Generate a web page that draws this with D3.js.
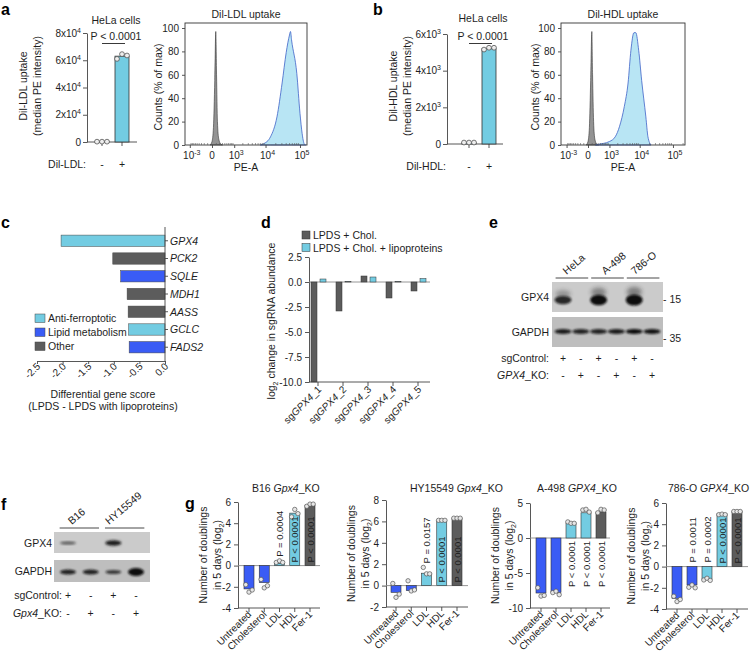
<!DOCTYPE html>
<html><head><meta charset="utf-8">
<script src="https://cdn.jsdelivr.net/npm/d3@7"></script>
<style>
body{margin:0;background:#fff}
text{font-family:"Liberation Sans",Arial,Helvetica,sans-serif;fill:#1e1e1e}
</style>
</head><body>
<svg id="fig" width="750" height="661"></svg>
<script>
// ================= DATA =================
// panel a / b bar charts
const abGroups = ["-", "+"];
const aMeans = [250, 63000];
const aReps = [[250, 250, 250], [61000, 64500, 63500]];
const aTicks = [0, 20000, 40000, 60000, 80000];
const bMeans = [80, 5200];
const bReps = [[80, 80, 80], [5150, 5250, 5250]];
const bTicks = [0, 2000, 4000, 6000];
// flow histograms: [PE-A value, % of max]
const aHistCtrl = [[-40,0],[0,3],[30,15],[60,55],[85,97],[105,60],[130,20],[170,5],[230,1],[300,0]];
const aHistLDL = [[7000,0],[8700,1],[14000,7],[21600,24],[30500,53],[40000,79],[49800,94],[53300,97],[57000,90],[81000,61],[100000,27],[115000,10],[132000,1],[145000,0]];
const bHistCtrl = [[-40,0],[0,3],[30,15],[60,55],[90,97],[110,60],[140,20],[180,5],[240,1],[320,0]];
const bHistHDL = [[200,0],[295,0.5],[1000,3],[1630,7],[2300,16],[3300,33],[4350,53],[5350,81],[6640,96],[7600,96],[9300,81],[11500,55],[15400,24],[17800,7],[22000,0]];
const histYTicks = [0, 20, 40, 60, 80, 100];
const histXTicks = [-1000, 0, 1000, 10000, 100000];
const histXLabels = [["10","-3"], ["0",""], ["10","3"], ["10","4"], ["10","5"]];
const histMinor = [-900,-800,-700,-600,-500,-400,-300,-200,-100,100,200,300,400,500,600,700,800,900,2000,3000,4000,5000,6000,7000,8000,9000,20000,30000,40000,50000,60000,70000,80000,90000,200000];
// panel c
const cGenes = ["GPX4","PCK2","SQLE","MDH1","AASS","GCLC","FADS2"];
const cScores = [-2.03,-1.02,-0.865,-0.74,-0.72,-0.71,-0.70];
const cClass = ["Anti-ferroptotic","Other","Lipid metabolism","Other","Other","Anti-ferroptotic","Lipid metabolism"];
const cLegend = ["Anti-ferroptotic","Lipid metabolism","Other"];
const cTicks = [-2.5,-2.0,-1.5,-1.0,-0.5,0.0];
// panel d
const dGuides = ["1","2","3","4","5"];
const dChol = [-10, -2.9, 0.6, -1.6, -0.9];
const dLipo = [0.3, 0.03, 0.5, 0.03, 0.35];
const dTicks = [2.5, 0, -2.5, -5, -7.5, -10];
const dSeries = ["LPDS + Chol.", "LPDS + Chol. + lipoproteins"];
// panel e (western blot, relative band intensity per lane)
const eCells = ["HeLa","A-498","786-O"];
const eSgControl = ["+","-","+","-","+","-"];
const eKO = ["-","+","-","+","-","+"];
const eGPX4 = [0.75, 0, 0.95, 0, 1.0, 0];
const eGAPDH = [0.85, 0.8, 0.8, 0.85, 0.95, 0.9];
// panel f
const fCells = ["B16","HY15549"];
const fSgControl = ["+","-","+","-"];
const fKO = ["-","+","-","+"];
const fGPX4 = [0.45, 0, 0.8, 0];
const fGAPDH = [0.8, 0.8, 0.65, 1.0];
// panel g
const gCats = ["Untreated","Cholesterol","LDL","HDL","Fer-1"];
const g1Means = [-2.2,-1.6,0.2,4.95,5.7];
const g1Reps = [[-1.8,-2.5,-2.3],[-1.3,-2.1,-1.9],[0.3,0.45,0.3],[4.6,5.3,4.9],[5.6,5.8,5.8]];
const g1P = ["","","P = 0.0004","P < 0.0001","P < 0.0001"];
const g2Means = [-0.63,-0.47,1.16,6.1,6.3];
const g2Reps = [[0.2,-1.1,-0.8],[0.45,-0.5,-0.4],[1.7,1.1,1.1],[6.1,6.1,6.1],[6.3,6.3,6.3]];
const g2P = ["","","P = 0.0157","P < 0.0001","P < 0.0001"];
const g3Means = [-7.86,-7.8,2.14,3.6,3.7];
const g3Reps = [[-7.1,-8.3,-8.2],[-7.8,-7.6,-8.1],[2.3,2.1,2.1],[4.0,4.1,3.7],[3.6,4.1,4.0]];
const g3P = ["","","P < 0.0001","P < 0.0001","P < 0.0001"];
const g4Means = [-2.99,-1.73,-1.2,4.97,5.2];
const g4Reps = [[-2.8,-3.3,-3.1],[-1.95,-1.73,-2.0],[-1.26,-1.1,-1.3],[4.9,4.95,4.9],[5.2,5.2,5.2]];
const g4P = ["","P = 0.0011","P = 0.0002","P < 0.0001","P < 0.0001"];

// ================= STYLE =================
const LB = "#73cce2", BL = "#3a5cf5", DG = "#5c5c5c", AXC = "#444";
const FF = '"Liberation Sans",Arial,Helvetica,sans-serif';
const svg = d3.select("#fig");
const defs = svg.append("defs");
defs.append("filter").attr("id","blur").attr("x","-50%").attr("y","-50%").attr("width","200%").attr("height","200%")
  .append("feGaussianBlur").attr("stdDeviation",1.3);
defs.append("filter").attr("id","blur2").attr("x","-50%").attr("y","-50%").attr("width","200%").attr("height","200%")
  .append("feGaussianBlur").attr("stdDeviation",2.2);

function styleAxis(g){
  g.attr("font-family", FF).attr("font-size", 10).style("color", AXC);
  g.selectAll("path.domain").attr("stroke-width", 0.9);
  g.selectAll(".tick line").attr("stroke-width", 0.9);
  g.selectAll(".tick text").style("fill", "#1e1e1e");
}
function letter(t, x, y){ svg.append("text").attr("x",x).attr("y",y).attr("font-size",16).attr("font-weight","bold").style("fill","#000").text(t); }
function line(x1,y1,x2,y2,stroke,w){ return svg.append("line").attr("x1",x1).attr("y1",y1).attr("x2",x2).attr("y2",y2).attr("stroke",stroke||AXC).attr("stroke-width",w||0.9); }

// ================= a / b : bar charts =================
function uptakeBar(cfg){
  const y = d3.scaleLinear().domain([0, cfg.max]).range([cfg.y0, cfg.y1]);
  const x = d3.scalePoint().domain(abGroups).range(cfg.xr);
  const ax = svg.append("g").attr("transform",`translate(${cfg.axisX},0)`)
    .call(d3.axisLeft(y).tickValues(cfg.ticks).tickSize(4).tickSizeOuter(0).tickFormat(""));
  styleAxis(ax);
  cfg.ticks.forEach(t => {
    const tx = svg.append("text").attr("x", cfg.axisX-6).attr("y", y(t)+3.5).attr("text-anchor","end").attr("font-size",10);
    if (t === 0) tx.text("0");
    else { const e = Math.floor(Math.log10(t)); tx.append("tspan").text((t/Math.pow(10,e)) + "x10"); tx.append("tspan").attr("dy",-4).attr("font-size",7).text(e); }
  });
  line(cfg.axisX, cfg.y0, cfg.xEnd, cfg.y0);
  abGroups.forEach((gname,i) => {
    line(x(gname), cfg.y0, x(gname), cfg.y0+4);
    svg.append("rect").attr("x", x(gname)-7).attr("width",14).attr("y", y(cfg.means[i])).attr("height", cfg.y0 - y(cfg.means[i]))
      .attr("fill", LB).attr("stroke","#333").attr("stroke-width",0.8);
    cfg.reps[i].forEach((v,k) => svg.append("circle").attr("cx", x(gname)+(k-1)*5).attr("cy", y(v)).attr("r",2.4)
      .attr("fill","#eee").attr("stroke","#555").attr("stroke-width",0.8));
    svg.append("text").attr("x", x(gname)).attr("y", cfg.y0+26).attr("text-anchor","middle").attr("font-size",10.5).text(gname);
  });
  svg.append("text").attr("x", cfg.axisX-1).attr("y", cfg.y0+26).attr("text-anchor","end").attr("font-size",10.5).text(cfg.xName);
  const mid = (x("-")+x("+"))/2 + 4;
  svg.append("text").attr("x", mid).attr("y", cfg.titleY).attr("text-anchor","middle").attr("font-size",10.5).text("HeLa cells");
  svg.append("text").attr("x", mid).attr("y", 40).attr("text-anchor","middle").attr("font-size",10.5).text("P < 0.0001");
  line(x("-"), 43.5, x("+")+3, 43.5, "#222", 0.9);
  svg.append("text").attr("transform",`translate(${cfg.labX},86) rotate(-90)`).attr("text-anchor","middle").attr("font-size",10.5).text(cfg.yName);
  svg.append("text").attr("transform",`translate(${cfg.labX+14},86) rotate(-90)`).attr("text-anchor","middle").attr("font-size",10.5).text("(median PE intensity)");
}
uptakeBar({max:80000, y0:142, y1:33, axisX:87, xEnd:137, xr:[102,122], means:aMeans, reps:aReps, ticks:aTicks, xName:"Dil-LDL:", yName:"Dil-LDL uptake", labX:27, titleY:24});
uptakeBar({max:6000, y0:144, y1:34, axisX:447, xEnd:503, xr:[469,489], means:bMeans, reps:bReps, ticks:bTicks, xName:"Dil-HDL:", yName:"Dil-HDL uptake", labX:397, titleY:22});

// ================= a / b : histograms =================
function histo(cfg){
  const x = d3.scaleSymlog().constant(300).domain(cfg.dom).range([cfg.xl, cfg.xr]);
  const y = d3.scaleLinear().domain([0,100]).range([145, 28]);
  const area = d3.area().x(d => x(d[0])).y0(y(0)).y1(d => y(d[1])).curve(d3.curveMonotoneX);
  svg.append("path").datum(cfg.ctrl).attr("d", area).attr("fill","#939393").attr("stroke","#333").attr("stroke-width",0.6);
  svg.append("path").datum(cfg.treated).attr("d", area).attr("fill","#b8e5f4").attr("stroke","#3d62c8").attr("stroke-width",0.8);
  svg.append("rect").attr("x", cfg.xl).attr("y", 23).attr("width", cfg.xr-cfg.xl).attr("height", 145-23)
    .attr("fill","none").attr("stroke","#333").attr("stroke-width",0.9);
  const ay = svg.append("g").attr("transform",`translate(${cfg.xl},0)`)
    .call(d3.axisLeft(y).tickValues(histYTicks).tickSize(3).tickSizeOuter(0).tickFormat(d=>d));
  styleAxis(ay); ay.select("path.domain").remove();
  const axx = svg.append("g").attr("transform",`translate(0,145)`)
    .call(d3.axisBottom(x).tickValues(histXTicks).tickSize(3).tickSizeOuter(0).tickFormat(""));
  styleAxis(axx); axx.select("path.domain").remove();
  histMinor.forEach(v => { if (x(v) > cfg.xl && x(v) < cfg.xr) line(x(v), 145, x(v), 143, "#555", 0.6); });
  histXTicks.forEach((v,i) => {
    const t = svg.append("text").attr("x", x(v) + (histXLabels[i][1] ? 2 : 0)).attr("y", 159).attr("text-anchor","middle").attr("font-size",10);
    t.append("tspan").text(histXLabels[i][0]);
    if (histXLabels[i][1]) t.append("tspan").attr("dy",-4).attr("font-size",7).text(histXLabels[i][1]);
  });
  const mid = (cfg.xl + cfg.xr)/2;
  svg.append("text").attr("x", mid).attr("y", 171).attr("text-anchor","middle").attr("font-size",10.5).text("PE-A");
  svg.append("text").attr("x", mid).attr("y", 18).attr("text-anchor","middle").attr("font-size",10.5).text(cfg.title);
  svg.append("text").attr("transform",`translate(${cfg.labX},87) rotate(-90)`).attr("text-anchor","middle").attr("font-size",10.5).text("Counts (% of max)");
}
histo({dom:[-1485,159000], xl:185, xr:307, ctrl:aHistCtrl, treated:aHistLDL, title:"Dil-LDL uptake", labX:162});
histo({dom:[-1602,228000], xl:561, xr:685, ctrl:bHistCtrl, treated:bHistHDL, title:"Dil-HDL uptake", labX:539});

// ================= c =================
(function(){
  const x = d3.scaleLinear().domain([-2.5, 0]).range([37, 165]);
  const y = d3.scaleBand().domain(cGenes).range([228.7, 359.3]).padding(0.36);
  const col = d3.scaleOrdinal().domain(cLegend).range([LB, BL, DG]);
  cGenes.forEach((g,i) => {
    svg.append("rect").attr("x", x(cScores[i])).attr("width", x(0)-x(cScores[i])).attr("y", y(g)).attr("height", y.bandwidth())
      .attr("fill", col(cClass[i])).attr("stroke","#444").attr("stroke-width",0.5);
    line(x(0), y(g)+y.bandwidth()/2, x(0)+3, y(g)+y.bandwidth()/2);
    svg.append("text").attr("x", x(0)+5).attr("y", y(g)+y.bandwidth()/2+3.8).attr("font-size",10.5).attr("font-style","italic").text(g);
  });
  line(x(0), 227, x(0), 361);
  const ax = svg.append("g").attr("transform","translate(0,361)")
    .call(d3.axisBottom(x).tickValues(cTicks).tickSize(3).tickSizeOuter(0).tickFormat(""));
  styleAxis(ax);
  cTicks.forEach(t => svg.append("text").attr("transform",`translate(${x(t)+4},367) rotate(-45)`).attr("text-anchor","end").attr("font-size",10).text(t.toFixed(1)));
  cLegend.forEach((c,i) => {
    svg.append("rect").attr("x",35).attr("y",314+i*14).attr("width",10).attr("height",8.5).attr("fill",col(c)).attr("stroke","#444").attr("stroke-width",0.5);
    svg.append("text").attr("x",48).attr("y",322+i*14).attr("font-size",10.5).text(c);
  });
  svg.append("text").attr("x",103).attr("y",398).attr("text-anchor","middle").attr("font-size",10.5).text("Differential gene score");
  svg.append("text").attr("x",103).attr("y",410).attr("text-anchor","middle").attr("font-size",10.5).text("(LPDS - LPDS with lipoproteins)");
})();

// ================= d =================
(function(){
  const x = d3.scalePoint().domain(dGuides).range([318, 418]);
  const y = d3.scaleLinear().domain([-10, 2.5]).range([382, 257]);
  const ax = svg.append("g").attr("transform","translate(309,0)")
    .call(d3.axisLeft(y).tickValues(dTicks).tickSize(4).tickSizeOuter(0).tickFormat(d => d.toFixed(1)));
  styleAxis(ax);
  line(309, y(0), 430, y(0), "#8a8a8a", 0.9);
  dGuides.forEach((g,i) => {
    [[dChol[i], -7, DG],[dLipo[i], 2, LB]].forEach(([v,off,c]) => {
      svg.append("rect").attr("x", x(g)+off).attr("width",6).attr("y", Math.min(y(v),y(0))).attr("height", Math.abs(y(v)-y(0)))
        .attr("fill", c).attr("stroke","#333").attr("stroke-width",0.5);
    });
  });
  line(309, 382, 430, 382);
  dGuides.forEach(g => {
    line(x(g), 382, x(g), 386);
    const t = svg.append("text").attr("transform",`translate(${x(g)+4},390) rotate(-45)`).attr("text-anchor","end").attr("font-size",10);
    t.append("tspan").text("sg"); t.append("tspan").attr("font-style","italic").text("GPX4"); t.append("tspan").text("_" + g);
  });
  const t = svg.append("text").attr("transform","translate(275,321) rotate(-90)").attr("text-anchor","middle").attr("font-size",10.5);
  t.append("tspan").text("log"); t.append("tspan").attr("font-size",7).attr("dy",3).text("2"); t.append("tspan").attr("dy",-3).text(" change in sgRNA abundance");
  dSeries.forEach((s,i) => {
    svg.append("rect").attr("x",302).attr("y",231+i*12.5).attr("width",8).attr("height",8).attr("fill", i ? LB : DG).attr("stroke","#333").attr("stroke-width",0.5);
    svg.append("text").attr("x",313).attr("y",239+i*12.5).attr("font-size",10.5).text(s);
  });
})();

// ================= blots =================
function blot(cfg){
  const x = d3.scalePoint().domain(d3.range(cfg.sg.length)).range(cfg.lanes);
  [[cfg.top1, cfg.h1, "#cbcbcb"], [cfg.top2, cfg.h2, "#bebebe"]].forEach(([t,h,c]) =>
    svg.append("rect").attr("x", cfg.xl).attr("y", t).attr("width", cfg.xr-cfg.xl).attr("height", h).attr("fill", c));
  cfg.gpx4.forEach((v,i) => {
    if (v <= 0) return;
    svg.append("ellipse").attr("cx", x(i)).attr("cy", cfg.b1 - cfg.smear*v).attr("rx", cfg.rx*0.9).attr("ry", cfg.ry1*v*0.9)
      .attr("fill","#222").attr("opacity", 0.45*v).attr("filter","url(#blur2)");
    svg.append("ellipse").attr("cx", x(i)).attr("cy", cfg.b1).attr("rx", cfg.rx).attr("ry", cfg.ry1*v)
      .attr("fill","#111").attr("opacity", Math.min(1, 0.25+0.8*v)).attr("filter","url(#blur)");
  });
  cfg.gapdh.forEach((v,i) => {
    svg.append("ellipse").attr("cx", x(i)).attr("cy", cfg.b2).attr("rx", cfg.rx).attr("ry", cfg.ry2(v))
      .attr("fill","#111").attr("opacity", Math.min(1, 0.2+0.85*v)).attr("filter","url(#blur)");
  });
  svg.append("text").attr("x", cfg.labR).attr("y", cfg.top1 + cfg.h1/2 + 4).attr("text-anchor","end").attr("font-size",10.5).text("GPX4");
  svg.append("text").attr("x", cfg.labR).attr("y", cfg.top2 + cfg.h2/2 + 4).attr("text-anchor","end").attr("font-size",10.5).text("GAPDH");
  cfg.sg.forEach((s,i) => {
    svg.append("text").attr("x", x(i)).attr("y", cfg.r1).attr("text-anchor","middle").attr("font-size",10.5).text(s);
    svg.append("text").attr("x", x(i)).attr("y", cfg.r2).attr("text-anchor","middle").attr("font-size",10.5).text(cfg.ko[i]);
  });
  svg.append("text").attr("x", cfg.rowR).attr("y", cfg.r1).attr("text-anchor","end").attr("font-size",10.5).text("sgControl:");
  const k = svg.append("text").attr("x", cfg.rowR).attr("y", cfg.r2).attr("text-anchor","end").attr("font-size",10.5);
  k.append("tspan").attr("font-style","italic").text(cfg.koGene); k.append("tspan").text("_KO:");
  const nG = cfg.cells.length, per = cfg.sg.length / nG;
  cfg.cells.forEach((c,j) => {
    const x0 = x(j*per) - cfg.step/2 + cfg.gapIn, x1 = x(j*per+per-1) + cfg.step/2 - cfg.gapIn;
    line(x0, cfg.lineY, x1, cfg.lineY, "#333", 0.9);
    svg.append("text").attr("transform",`translate(${x0+cfg.labOff[j]},${cfg.lineY-3}) rotate(-40)`).attr("font-size",10.5).text(c);
  });
}
blot({sg:eSgControl, ko:eKO, gpx4:eGPX4, gapdh:eGAPDH, cells:eCells, lanes:[563,652], step:17.8, gapIn:1.5,
  xl:552, xr:663, top1:282, h1:30, top2:317, h2:30, b1:300, b2:331.5, rx:8.5, ry1:5.5, smear:8, ry2:v=>2.6,
  labR:549, r1:362, r2:379, rowR:549, koGene:"GPX4", lineY:278, labOff:[11,14,8]});
blot({sg:fSgControl, ko:fKO, gpx4:fGPX4, gapdh:fGAPDH, cells:fCells, lanes:[68,136], step:22.7, gapIn:3,
  xl:54, xr:150, top1:532, h1:21, top2:560, h2:22, b1:543, b2:572, rx:8, ry1:3, smear:0, ry2:v=>1.5+2.5*Math.pow(v,4),
  labR:52, r1:599, r2:617, rowR:62, koGene:"Gpx4", lineY:528, labOff:[12,4]});
svg.append("text").attr("x",663).attr("y",303).attr("font-size",10.5).text("- 15");
svg.append("text").attr("x",663).attr("y",342).attr("font-size",10.5).text("- 35");

// ================= g =================
const gColors = [BL, BL, LB, LB, DG];
function gPanel(cfg){
  const y = d3.scaleLinear().domain(cfg.dom).range(cfg.yr);
  const x = d3.scalePoint().domain(gCats).range(cfg.xr);
  const y0 = y(0), yb = cfg.yr[0];
  const ax = svg.append("g").attr("transform",`translate(${cfg.axisX},0)`)
    .call(d3.axisLeft(y).tickValues(cfg.ticks).tickSize(4).tickSizeOuter(0).tickFormat(d => String(d)));
  styleAxis(ax);
  line(cfg.axisX, y0, cfg.xEnd, y0, "#8a8a8a", 0.9);
  line(cfg.axisX, yb, cfg.xEnd, yb);
  gCats.forEach((c,i) => {
    const v = cfg.means[i];
    svg.append("rect").attr("x", x(c)-5).attr("width",10).attr("y", Math.min(y(v), y0)).attr("height", Math.abs(y(v)-y0))
      .attr("fill", gColors[i]).attr("stroke","#333").attr("stroke-width",0.6);
    cfg.reps[i].forEach((r,k) => svg.append("circle").attr("cx", x(c)+(k-1)*3.2).attr("cy", y(r)).attr("r",2.2)
      .attr("fill","#e6e6e6").attr("stroke","#555").attr("stroke-width",0.7));
    line(x(c), yb, x(c), yb+4);
    svg.append("text").attr("transform",`translate(${x(c)+3},${yb+7}) rotate(-45)`).attr("text-anchor","end").attr("font-size",10).text(c);
    const p = cfg.p[i];
    if (p) {
      let ys, anchor = "start";
      if (cfg.below) { ys = y0 + 3; anchor = "end"; }
      else if (v > 2) ys = y0 - 3;
      else ys = Math.min(y0, y(d3.max(cfg.reps[i]))) - 4;
      svg.append("text").attr("transform",`translate(${x(c)+3.5},${ys}) rotate(-90)`).attr("text-anchor",anchor).attr("font-size",9.5).text(p);
    }
  });
  const t = svg.append("text").attr("x", cfg.titleX).attr("y", 492).attr("font-size",10.5);
  t.append("tspan").text(cfg.title[0]); t.append("tspan").attr("font-style","italic").text(cfg.title[1]); t.append("tspan").text("_KO");
  const cy = (cfg.yr[0]+cfg.yr[1])/2;
  svg.append("text").attr("transform",`translate(${cfg.axisX-31},${cy}) rotate(-90)`).attr("text-anchor","middle").attr("font-size",10.5).text("Number of doublings");
  const t2 = svg.append("text").attr("transform",`translate(${cfg.axisX-17},${cy}) rotate(-90)`).attr("text-anchor","middle").attr("font-size",10.5);
  t2.append("tspan").text("in 5 days (log"); t2.append("tspan").attr("font-size",7).attr("dy",3).text("2"); t2.append("tspan").attr("dy",-3).text(")");
}
gPanel({dom:[-4,6], yr:[608,502], ticks:[-4,-2,0,2,4,6], xr:[249,310], axisX:238, xEnd:320, means:g1Means, reps:g1Reps, p:g1P, title:["B16 ","Gpx4"], titleX:252});
gPanel({dom:[-2,8], yr:[607,500], ticks:[-2,0,2,4,6,8], xr:[396,457], axisX:386, xEnd:468, means:g2Means, reps:g2Reps, p:g2P, title:["HY15549 ","Gpx4"], titleX:410});
gPanel({dom:[-10,5], yr:[608,503], ticks:[-10,-5,0,5], xr:[541,601], axisX:530, xEnd:610, means:g3Means, reps:g3Reps, p:g3P, title:["A-498 ","GPX4"], titleX:537, below:true});
gPanel({dom:[-4,6], yr:[609,503], ticks:[-4,-2,0,2,4,6], xr:[677,737], axisX:666, xEnd:748, means:g4Means, reps:g4Reps, p:g4P, title:["786-O ","GPX4"], titleX:668});

// letters
letter("a",1,15); letter("b",373,15); letter("c",1,228); letter("d",261,228); letter("e",489,228); letter("f",1,510); letter("g",185,509);
</script>
</body></html>
